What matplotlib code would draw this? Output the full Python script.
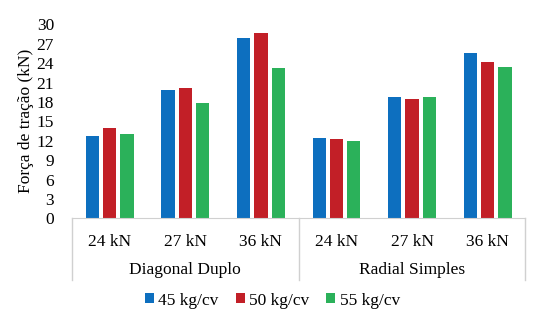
import matplotlib.pyplot as plt
import numpy as np

plt.rcParams['font.family'] = ['Liberation Serif', 'DejaVu Serif']

groups = ["Diagonal Duplo", "Radial Simples"]
loads = ["24 kN", "27 kN", "36 kN", "24 kN", "27 kN", "36 kN"]
series = ["45 kg/cv", "50 kg/cv", "55 kg/cv"]
v45 = [12.7, 19.8, 27.9, 12.4, 18.7, 25.6]
v50 = [13.9, 20.1, 28.7, 12.2, 18.5, 24.1]
v55 = [13.1, 17.9, 23.3, 11.9, 18.7, 23.4]
colors = ["#0D6FBF", "#C21F27", "#2BB15A"]

fig = plt.figure(figsize=(5.56, 3.31), dpi=100)
ax = fig.add_axes([0.1295, 0.3405, 0.8155, 0.586])

x = np.arange(len(loads))
slot = 0.228
for i, (vals, lab) in enumerate(zip([v45, v50, v55], series)):
    ax.bar(x + (i - 1) * slot, vals, width=0.176, color=colors[i], label=lab)

ax.set_xlim(-0.5, 5.5)
ax.set_ylim(0, 30)
ax.set_yticks(np.arange(0, 31, 3))
ax.set_xticks(x)
ax.set_xticklabels(loads)
ax.tick_params(axis='both', length=0, labelsize=12.5)
ax.tick_params(axis='x', pad=11)
ax.tick_params(axis='y', pad=13)
for s in ['left', 'right', 'top']:
    ax.spines[s].set_visible(False)
ax.spines['bottom'].set_color('#D0D0D0')
ax.set_ylabel("Força de tração (kN)", fontsize=12.5, labelpad=2)

# group separators and group labels
tr = ax.get_xaxis_transform()
for xs in [-0.5, 2.5, 5.5]:
    ax.plot([xs, xs], [0, -0.32], transform=tr, color='#D0D0D0', lw=1, clip_on=False)
for j, g in enumerate(groups):
    ax.text(1 + 3 * j, -0.265, g, transform=tr, ha='center', va='center', fontsize=12.5)

fig.legend(loc='center', bbox_to_anchor=(0.49, 0.092), ncol=3, frameon=False,
           fontsize=12.5, handlelength=0.5, handleheight=0.5, handletextpad=0.25,
           columnspacing=1.0)

fig.savefig("out.png", dpi=100)
